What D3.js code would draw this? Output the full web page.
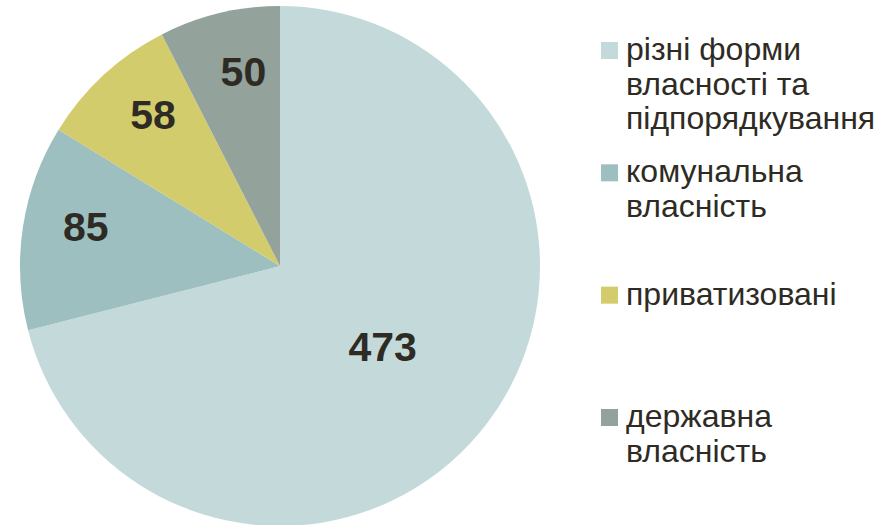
<!DOCTYPE html>
<html>
<head>
<meta charset="utf-8">
<script src="https://cdn.jsdelivr.net/npm/d3@7"></script>
<style>
  body { margin: 0; background: #fff; }
  svg { display: block; font-family: "Liberation Sans", Arial, sans-serif; }
</style>
</head>
<body>
<div id="chart-container"></div>
<script>
// data
const categories = ["різні форми власності та підпорядкування", "комунальна власність", "приватизовані", "державна власність"]
const values = [473, 85, 58, 50]
const legendLines = [
  ["різні форми", "власності та", "підпорядкування"],
  ["комунальна", "власність"],
  ["приватизовані"],
  ["державна", "власність"],
]
const colors = ["#c4d9d9", "#9dbfbf", "#d3cc6c", "#93a39c"]

const width = 891, height = 525
const textColor = "#2e2b24"

const svg = d3.select("#chart-container")
  .append("svg")
    .attr("width", width)
    .attr("height", height)

const radius = 260
const cx = 280, cy = 266

const data = values.map((v, i) => ({ name: categories[i], value: v, color: colors[i], lines: legendLines[i] }))

const pie = d3.pie()
  .value(d => d.value)
  .sort(null)

const arcs = pie(data)

const arc = d3.arc().innerRadius(0).outerRadius(radius)

// big slice label sits closer to centre, the small ones further out
function labelPos(d) {
  const big = (d.endAngle - d.startAngle) > Math.PI
  const r = big ? radius * 0.5 : radius * 0.762
  const a = (d.startAngle + d.endAngle) / 2 + (big ? 0 : 0.05)
  return [r * Math.sin(a), -r * Math.cos(a)]
}

const g = svg.append("g")
  .attr("transform", `translate(${cx},${cy})`)

g.selectAll("path")
  .data(arcs)
  .join("path")
  .attr("d", arc)
  .attr("fill", d => d.data.color)

g.selectAll("text")
  .data(arcs)
  .join("text")
  .attr("transform", d => `translate(${labelPos(d)})`)
  .attr("text-anchor", "middle")
  .attr("dy", "0.36em")
  .style("font-size", "41px")
  .style("font-weight", "bold")
  .style("fill", textColor)
  .text(d => d.data.value)

// legend
const legendY = d3.scalePoint()
  .domain(d3.range(data.length))
  .range([60, 427])

const legend = svg.append("g")
  .selectAll("g")
  .data(data)
  .join("g")
  .attr("transform", (d, i) => `translate(601,${legendY(i)})`)

legend.append("rect")
  .attr("x", 0)
  .attr("y", -18)
  .attr("width", 17)
  .attr("height", 17)
  .attr("fill", d => d.color)

legend.append("text")
  .style("font-size", "32px")
  .style("fill", textColor)
  .selectAll("tspan")
  .data(d => d.lines)
  .join("tspan")
  .attr("x", 25)
  .attr("y", (d, i) => i * 34.5)
  .text(d => d)
</script>
</body>
</html>
